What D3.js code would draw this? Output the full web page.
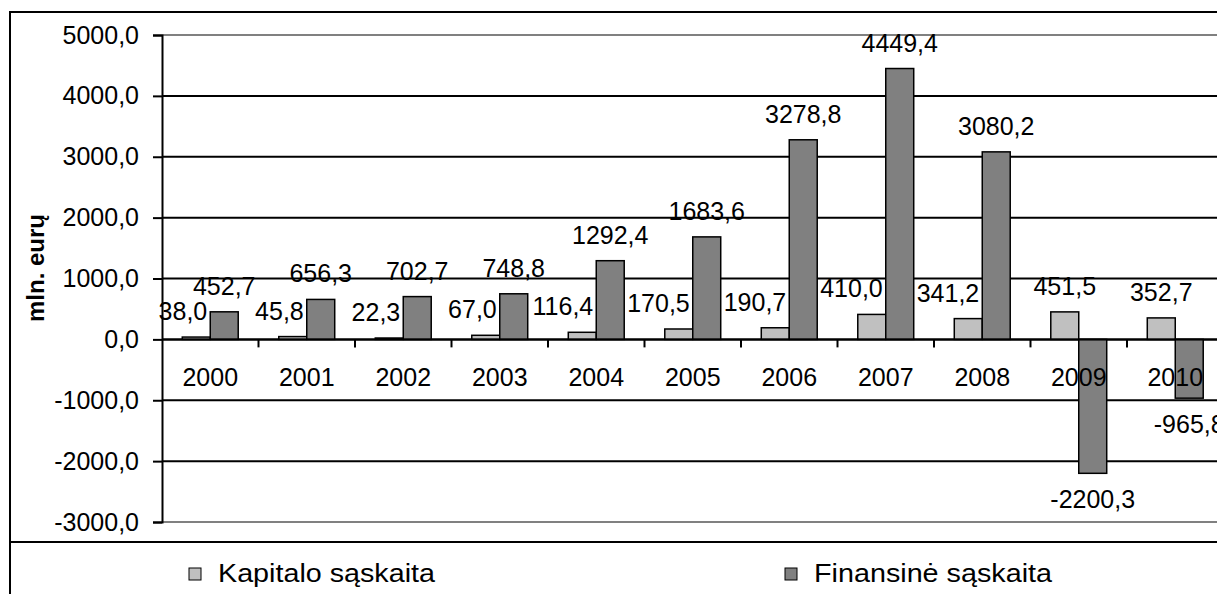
<!DOCTYPE html>
<html>
<head>
<meta charset="utf-8">
<script src="https://cdn.jsdelivr.net/npm/d3@7"></script>
<style>
  body { margin: 0; background: #fff; }
  svg text { font-family: "Liberation Sans", Arial, sans-serif; fill: #000; }
</style>
</head>
<body>
<div id="chart"></div>
<script>
// chart data
const years = ['2000','2001','2002','2003','2004','2005','2006','2007','2008','2009','2010']
const kapitalo = [38.0, 45.8, 22.3, 67.0, 116.4, 170.5, 190.7, 410.0, 341.2, 451.5, 352.7]
const finansine = [452.7, 656.3, 702.7, 748.8, 1292.4, 1683.6, 3278.8, 4449.4, 3080.2, -2200.3, -965.8]
const seriesNames = ['Kapitalo sąskaita', 'Finansinė sąskaita']
const yTicks = [-3000, -2000, -1000, 0, 1000, 2000, 3000, 4000, 5000]

const width = 1217
const height = 594
const colors = ['#c0c0c0', '#808080']
const fontSize = 25

const locale = d3.formatLocale({decimal: ',', thousands: '', grouping: [3], currency: ['', ''], minus: '-'})
const fmt = locale.format('.1f')

const svg = d3.select('#chart')
  .append('svg')
  .attr('width', width)
  .attr('height', height)

// outer frame
svg.append('rect')
  .attr('x', 10).attr('y', 12)
  .attr('width', 1300).attr('height', 700)
  .attr('fill', 'none').attr('stroke', '#000').attr('stroke-width', 2)

svg.append('line')
  .attr('x1', 10).attr('x2', width)
  .attr('y1', 542).attr('y2', 542)
  .attr('stroke', '#000').attr('stroke-width', 2)

// scales
const plotLeft = 162
const bandW = 96.5
const x0 = d3.scaleBand()
  .domain(years)
  .range([plotLeft, plotLeft + bandW * years.length])

const barW = x0.bandwidth() / 3.45
const x1 = d3.scaleBand()
  .domain([0, 1])
  .range([(x0.bandwidth() - 2 * barW) / 2, (x0.bandwidth() + 2 * barW) / 2])

const y = d3.scaleLinear()
  .domain([-3000, 5000])
  .range([522, 35])

// gridlines
svg.append('g')
  .selectAll('line')
  .data(yTicks)
  .enter()
  .append('line')
  .attr('x1', plotLeft).attr('x2', width)
  .attr('y1', d => y(d)).attr('y2', d => y(d))
  .attr('stroke', d => (d === 5000 || d === -3000) ? '#808080' : '#000')
  .attr('stroke-width', 2)

// y axis
const yAxis = svg.append('g')
  .attr('transform', `translate(${plotLeft},0)`)
  .call(d3.axisLeft(y).tickValues(yTicks).tickFormat(fmt).tickSize(9).tickPadding(14))
yAxis.select('.domain').attr('stroke', '#000').attr('stroke-width', 2)
yAxis.selectAll('.tick line').attr('stroke', '#000').attr('stroke-width', 2)
yAxis.selectAll('.tick text')
  .attr('font-size', fontSize)
  .attr('font-family', '"Liberation Sans", Arial, sans-serif')
  .attr('fill', '#000')

// y title
svg.append('text')
  .attr('transform', 'translate(44,268) rotate(-90)')
  .attr('text-anchor', 'middle')
  .attr('font-size', 24)
  .attr('font-weight', 'bold')
  .text('mln. eurų')

// bars
const rows = years.map((yr, i) => ({year: yr, values: [kapitalo[i], finansine[i]]}))

const groups = svg.append('g')
  .selectAll('g')
  .data(rows)
  .enter()
  .append('g')
  .attr('transform', d => `translate(${x0(d.year)},0)`)

groups.selectAll('rect')
  .data(d => d.values.map((v, j) => ({v: v, j: j})))
  .enter()
  .append('rect')
  .attr('x', d => x1(d.j))
  .attr('width', x1.bandwidth())
  .attr('y', d => y(Math.max(0, d.v)))
  .attr('height', d => Math.abs(y(d.v) - y(0)))
  .attr('fill', d => colors[d.j])
  .attr('stroke', '#000')
  .attr('stroke-width', 1.5)

// zero line and category ticks
svg.append('line')
  .attr('x1', plotLeft).attr('x2', width)
  .attr('y1', y(0)).attr('y2', y(0))
  .attr('stroke', '#000').attr('stroke-width', 2)

svg.append('g')
  .selectAll('line')
  .data(years.slice(1))
  .enter()
  .append('line')
  .attr('x1', d => x0(d)).attr('x2', d => x0(d))
  .attr('y1', y(0)).attr('y2', y(0) + 8)
  .attr('stroke', '#000').attr('stroke-width', 2)

// year labels
svg.append('g')
  .selectAll('text')
  .data(years)
  .enter()
  .append('text')
  .attr('x', d => x0(d) + x0.bandwidth() / 2)
  .attr('y', y(0) + 47)
  .attr('text-anchor', 'middle')
  .attr('font-size', fontSize)
  .text(d => d)

// value labels
groups.selectAll('text')
  .data(d => d.values.map((v, j) => ({v: v, j: j, other: d.values[1]})))
  .enter()
  .append('text')
  .attr('x', d => {
    // kapitalo label pushed to the bar's right edge when neighbour is tall
    if (d.j === 0 && d.other > 0) return x1(0) + x1.bandwidth() - 3
    return x1(d.j) + x1.bandwidth() / 2
  })
  .attr('y', d => d.v >= 0 ? y(d.v) - 17 : y(d.v) + 35)
  .attr('text-anchor', d => (d.j === 0 && d.other > 0) ? 'end' : 'middle')
  .attr('font-size', fontSize)
  .text(d => fmt(d.v))

// legend
const legendX = [189, 785]
const legendLen = [217, 238]
const legend = svg.append('g')
  .selectAll('g')
  .data(seriesNames)
  .enter()
  .append('g')
  .attr('transform', (d, i) => `translate(${legendX[i]},568)`)

legend.append('rect')
  .attr('width', 12).attr('height', 12)
  .attr('fill', (d, i) => colors[i])
  .attr('stroke', '#000').attr('stroke-width', 1)

legend.append('text')
  .attr('x', 29)
  .attr('y', 14)
  .attr('font-size', 26)
  .attr('textLength', (d, i) => legendLen[i])
  .attr('lengthAdjust', 'spacingAndGlyphs')
  .text(d => d)
</script>
</body>
</html>
